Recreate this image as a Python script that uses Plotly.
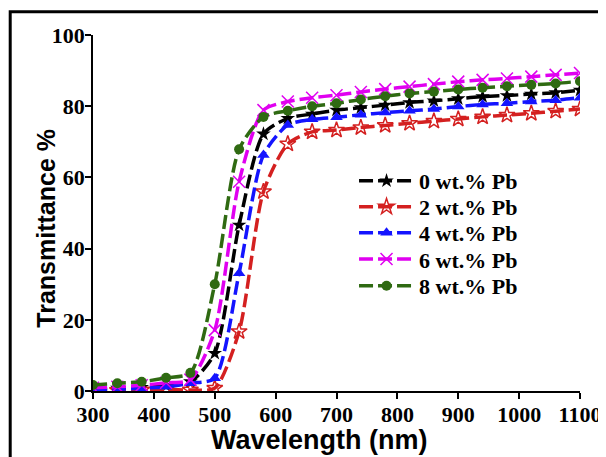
import plotly.graph_objects as go

wavelength = [300, 340, 380, 420, 460, 500, 540, 580, 620, 660, 700, 740, 780,
              820, 860, 900, 940, 980, 1020, 1060, 1100]

pb0 = [0.6, 0.8, 1.0, 1.5, 2.6, 10.6, 46.6, 72.2, 76.6, 77.8, 78.9, 79.6, 80.3,
       81.0, 81.5, 82.1, 82.7, 83.0, 83.4, 83.8, 84.5]
pb2 = [0.1, 0.2, 0.3, 0.4, 0.3, 0.8, 16.7, 56.0, 69.4, 72.8, 73.3, 74.0, 74.6,
       75.2, 75.8, 76.4, 77.0, 77.5, 78.0, 78.6, 79.2]
pb4 = [0.4, 0.5, 0.8, 1.2, 2.2, 3.6, 33.1, 66.3, 74.7, 76.3, 76.9, 77.6, 78.2,
       78.7, 79.2, 79.9, 80.5, 80.8, 81.3, 81.7, 82.4]
pb6 = [0.9, 1.2, 1.6, 2.3, 3.2, 17.1, 58.8, 78.9, 81.3, 82.4, 83.1, 84.0, 84.8,
       85.5, 86.2, 86.9, 87.4, 87.8, 88.3, 88.8, 89.3]
pb8 = [1.7, 2.2, 2.6, 3.7, 5.1, 30.0, 67.9, 77.0, 78.7, 80.0, 80.8, 81.9, 82.8,
       83.6, 84.1, 84.7, 85.2, 85.6, 86.0, 86.4, 87.0]

names = ["0 wt.% Pb", "2 wt.% Pb", "4 wt.% Pb", "6 wt.% Pb", "8 wt.% Pb"]
series = [pb0, pb2, pb4, pb6, pb8]
colors = ["#000000", "#d42020", "#1414ff", "#e000f0", "#2f6a12"]
symbols = ["star", "star-open", "triangle-up", "x-thin-open", "circle"]
sizes = [11, 12, 11, 12, 10]

x_ticks = [300, 400, 500, 600, 700, 800, 900, 1000, 1100]
y_ticks = [0, 20, 40, 60, 80, 100]

legend_ids = ["legend", "legend2", "legend3", "legend4", "legend5"]
legend_y = [0.590, 0.517, 0.444, 0.370, 0.295]

fig = go.Figure()
for name, vals, col, sym, sz, lid in zip(names, series, colors, symbols, sizes, legend_ids):
    fig.add_trace(go.Scatter(
        x=wavelength, y=vals, name=name, mode="lines+markers", legend=lid,
        line=dict(color=col, width=3.5, dash="14px,5px", shape="spline", smoothing=0.7),
        marker=dict(symbol=sym, size=sz, color=col,
                    line=dict(color=col, width=1.5 if sym in ("star-open", "x-thin-open") else 0)),
    ))

tickfont = dict(family="Liberation Serif", size=22, color="black", weight="bold")
legfont = dict(family="Liberation Serif", size=22, color="black", weight="bold")

legends = {}
for lid, ly in zip(legend_ids, legend_y):
    legends[lid] = dict(x=0.536, y=ly, xanchor="left", yanchor="middle",
                        font=legfont, itemwidth=55, bgcolor="rgba(0,0,0,0)")

axis_common = dict(ticks="outside", ticklen=6, tickwidth=1.5, tickcolor="black",
                   showline=True, linecolor="black", linewidth=1.5, showgrid=False,
                   zeroline=False, tickfont=tickfont, automargin=False)

fig.update_layout(
    width=598, height=449,
    margin=dict(l=84.5, r=26, t=27, b=66, autoexpand=False),
    paper_bgcolor="white", plot_bgcolor="white",
    showlegend=True,
    xaxis=dict(range=[300, 1100], tickvals=x_ticks, ticklabelstandoff=-3, **axis_common),
    yaxis=dict(range=[0, 100], tickvals=y_ticks, ticklabelstandoff=-4, **axis_common),
    annotations=[
        dict(text="Wavelength (nm)", xref="paper", yref="paper", x=0.466, y=-0.138,
             xanchor="center", yanchor="middle", showarrow=False,
             font=dict(family="Liberation Sans", size=27, color="black", weight="bold")),
        dict(text="Transmittance %", xref="paper", yref="paper", x=-0.097, y=0.458,
             xanchor="center", yanchor="middle", showarrow=False, textangle=-90,
             font=dict(family="Liberation Sans", size=25, color="black", weight="bold")),
    ],
    shapes=[dict(type="rect", xref="paper", yref="paper",
                 x0=-0.170, x1=1.2, y0=-0.4, y1=1.065,
                 line=dict(color="black", width=3), layer="above")],
    **legends,
)

fig.write_html("out.html")
